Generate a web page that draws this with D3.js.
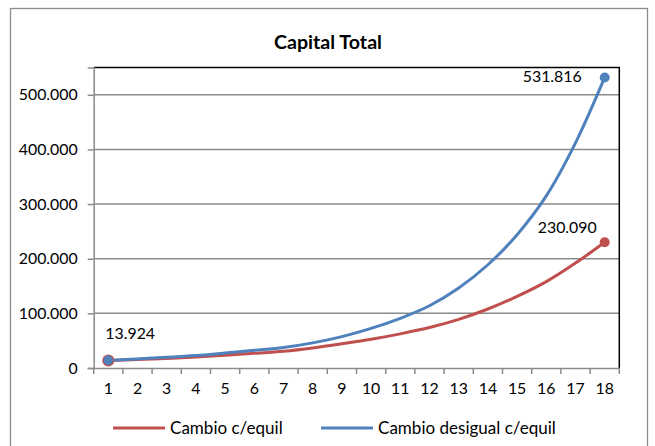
<!DOCTYPE html>
<html>
<head>
<meta charset="utf-8">
<script src="https://cdn.jsdelivr.net/npm/d3@7"></script>
<style>
  html, body { margin: 0; padding: 0; background: #fff; }
  svg { display: block; }
  text { font-family: Lato, "Open Sans", sans-serif; fill: #000; }
</style>
</head>
<body>
<svg id="chart" width="655" height="446"></svg>
<script>
// ---- data ----
const categories = [1, 2, 3, 4, 5, 6, 7, 8, 9, 10, 11, 12, 13, 14, 15, 16, 17, 18];
const seriesNames = ["Cambio c/equil", "Cambio desigual c/equil"];
const cambioEquil = [13924, 15500, 17500, 20200, 23300, 26800, 30800, 36800, 44300, 52500, 62500, 74000, 89000, 108000, 131000, 158000, 192000, 230090];
const cambioDesigual = [13924, 16600, 19500, 22900, 27400, 32400, 37500, 46000, 57500, 72500, 91000, 114000, 146500, 189000, 244000, 315000, 412000, 531816];
const yTicks = [0, 100000, 200000, 300000, 400000, 500000];
const title = "Capital Total";
const colors = ["#C0504D", "#4F81BD"];

// ---- setup ----
const svg = d3.select("#chart");
const locale = d3.formatLocale({ decimal: ",", thousands: ".", grouping: [3], currency: ["", ""] });
const fmt = locale.format(",d");

// font size fitting helper: size so that sample string has target width
function fitSize(sample, targetWidth, weight) {
  const t = svg.append("text").attr("font-size", 20).attr("font-weight", weight || "normal").text(sample);
  const w = t.node().getComputedTextLength();
  t.remove();
  return 20 * targetWidth / w;
}
const titleSize = fitSize(title, 108, "bold");
const numSize = fitSize("500.000", 59);
const legendSize = fitSize("Cambio desigual c/equil", 178);

const plot = { left: 93.7, right: 619.3, top: 67.5, bottom: 368 };

const x = d3.scaleBand().domain(categories).range([plot.left, plot.right]).paddingInner(0).paddingOuter(0);
const y = d3.scaleLinear().domain([0, 550000]).range([plot.bottom, plot.top]);
const cx = d => x(d) + x.bandwidth() / 2;

// outer border
svg.append("rect")
  .attr("x", 10.5).attr("y", 8.5).attr("width", 637).attr("height", 460)
  .attr("fill", "#fff").attr("stroke", "#8c8c8c").attr("stroke-width", 1.3);

// title
svg.append("text")
  .attr("x", 328).attr("y", 49)
  .attr("text-anchor", "middle")
  .attr("font-weight", "bold").attr("font-size", titleSize)
  .text(title);

// gridlines
svg.append("g").selectAll("line")
  .data(yTicks.filter(d => d > 0))
  .join("line")
  .attr("x1", plot.left).attr("x2", plot.right)
  .attr("y1", d => y(d)).attr("y2", d => y(d))
  .attr("stroke", "#8a8a8a").attr("stroke-width", 1.5);

// plot border (top & right black)
svg.append("path")
  .attr("d", `M${plot.left},${plot.top}H${plot.right}V${plot.bottom}`)
  .attr("fill", "none").attr("stroke", "#000").attr("stroke-width", 1.5);

// y axis
const yAxis = d3.axisLeft(y).tickValues(yTicks).tickFormat(fmt).tickSize(6).tickPadding(10);
const gy = svg.append("g").attr("transform", `translate(${plot.left},0)`).call(yAxis);
gy.select(".domain").attr("stroke", "#8a8a8a").attr("stroke-width", 1.5);
gy.selectAll(".tick line").attr("stroke", "#8a8a8a").attr("stroke-width", 1.5);
gy.selectAll(".tick text").attr("font-size", numSize).attr("font-family", "Lato, sans-serif").attr("fill", "#000");

// x axis
const xAxis = d3.axisBottom(x).tickSize(0).tickPadding(15);
const gx = svg.append("g").attr("transform", `translate(0,${plot.bottom})`).call(xAxis);
gx.select(".domain").attr("stroke", "#8a8a8a").attr("stroke-width", 1.5);
gx.selectAll(".tick text").attr("font-size", numSize).attr("font-family", "Lato, sans-serif").attr("fill", "#000");
// category boundary tick marks
const bounds = categories.map(c => x(c)).concat([plot.right]);
svg.append("g").selectAll("line")
  .data(bounds)
  .join("line")
  .attr("x1", d => d).attr("x2", d => d)
  .attr("y1", plot.bottom).attr("y2", plot.bottom + 6)
  .attr("stroke", "#8a8a8a").attr("stroke-width", 1.5);

// lines
const line = d3.line().x((d, i) => cx(categories[i])).y(d => y(d)).curve(d3.curveCatmullRom.alpha(0.5));
[cambioEquil, cambioDesigual].forEach((s, k) => {
  svg.append("path")
    .datum(s)
    .attr("d", line)
    .attr("fill", "none")
    .attr("stroke", colors[k])
    .attr("stroke-width", 3)
    .attr("stroke-linejoin", "round");
});

// markers
const n = categories.length - 1;
svg.append("circle").attr("cx", cx(categories[0])).attr("cy", y(cambioEquil[0])).attr("r", 6).attr("fill", colors[0]);
svg.append("circle").attr("cx", cx(categories[0])).attr("cy", y(cambioDesigual[0])).attr("r", 4.8).attr("fill", colors[1]);
svg.append("circle").attr("cx", cx(categories[n])).attr("cy", y(cambioEquil[n])).attr("r", 5).attr("fill", colors[0]);
svg.append("circle").attr("cx", cx(categories[n])).attr("cy", y(cambioDesigual[n])).attr("r", 5).attr("fill", colors[1]);

// data labels
svg.append("text").attr("x", cx(categories[0]) - 3).attr("y", 339).attr("font-size", numSize).text(fmt(cambioDesigual[0]));
svg.append("text").attr("x", cx(categories[n]) - 23).attr("y", 82).attr("text-anchor", "end").attr("font-size", numSize).text(fmt(cambioDesigual[n]));
svg.append("text").attr("x", cx(categories[n]) - 8).attr("y", 233).attr("text-anchor", "end").attr("font-size", numSize).text(fmt(cambioEquil[n]));

// legend
const legendItems = [
  { name: seriesNames[0], color: colors[0], x: 113 },
  { name: seriesNames[1], color: colors[1], x: 321 }
];
const lg = svg.append("g");
legendItems.forEach(it => {
  lg.append("line").attr("x1", it.x).attr("x2", it.x + 52).attr("y1", 428).attr("y2", 428)
    .attr("stroke", it.color).attr("stroke-width", 3);
  lg.append("text").attr("x", it.x + 57).attr("y", 434).attr("font-size", legendSize).text(it.name);
});
</script>
</body>
</html>
